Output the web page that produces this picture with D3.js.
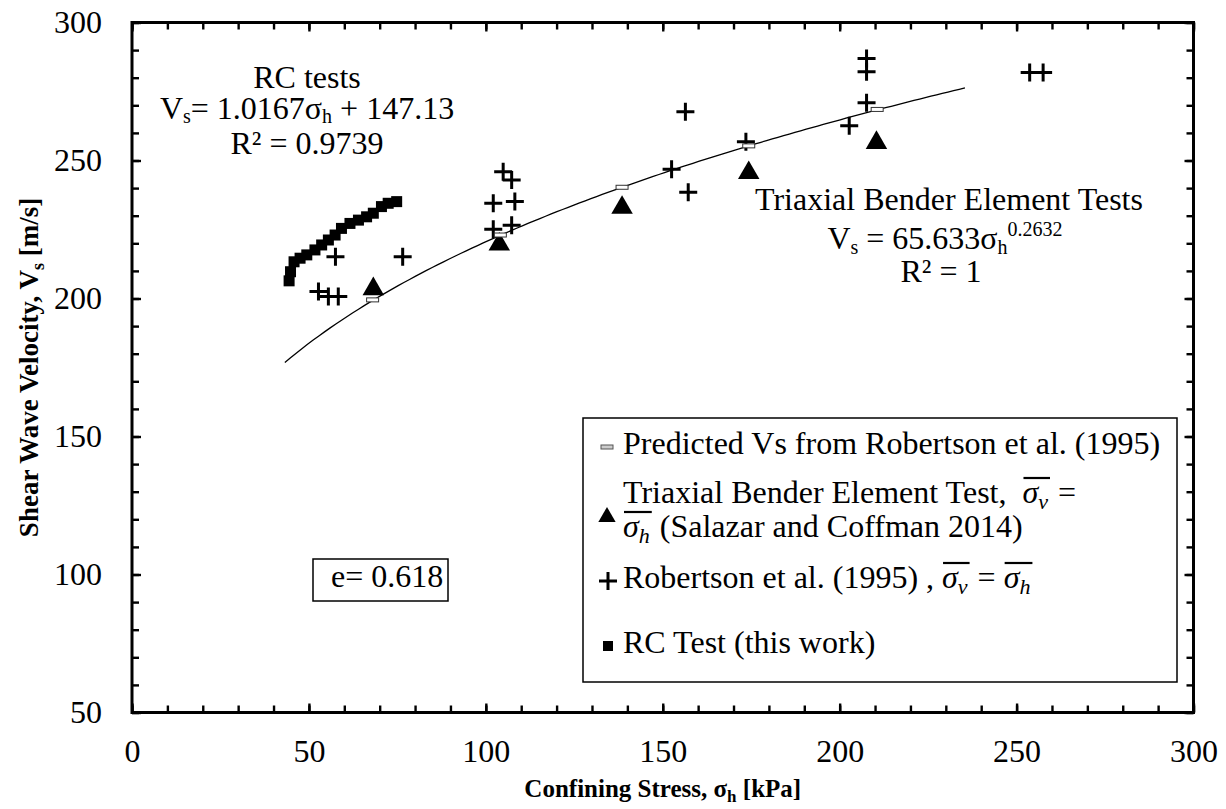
<!DOCTYPE html>
<html>
<head>
<meta charset="utf-8">
<script src="https://cdn.jsdelivr.net/npm/d3@7"></script>
<style>
  html, body { margin: 0; padding: 0; background: #fff; }
  svg { display: block; }
  text { font-family: "Liberation Serif", "Times New Roman", serif; fill: #000; }
</style>
</head>
<body>
<svg id="chart" width="1226" height="809"></svg>
<script>
// Resonant column (RC) results: confining stress [kPa] vs shear wave velocity [m/s]
const rcStress = [44.4, 44.8, 45.8, 47.5, 49.4, 51.7, 53.6, 55.5, 57.4, 59.2, 61.6, 64.0, 66.3, 68.2, 70.5, 72.4, 74.8];
const rcVs     = [206.4, 209.7, 213.3, 214.6, 215.8, 217.6, 219.4, 221.2, 223.0, 225.4, 227.2, 228.4, 229.6, 230.9, 233.3, 234.5, 235.1];

// Triaxial bender element tests (Salazar and Coffman 2014)
const tbeStress = [68.2, 103.8, 138.5, 174.3, 210.4];
const tbeVs     = [203.8, 220.0, 233.3, 245.9, 256.8];

// Predicted Vs from Robertson et al. (1995)
const predStress = [68.0, 104.1, 138.5, 174.3, 210.6];
const predVs     = [199.5, 223.0, 240.3, 255.3, 268.5];

// Robertson et al. (1995) measurements
const robStress = [52.7, 55.5, 58.3, 57.5, 76.5, 104.9, 107.3, 102.1, 108.2, 102.1, 107.3,
                   152.5, 157.2, 156.4, 173.5, 207.6, 207.6, 207.6, 202.7, 253.7, 257.5];
const robVs     = [202.5, 200.7, 200.7, 215.1, 215.1, 245.9, 242.9, 234.5, 235.1, 225.1, 226.5,
                   246.8, 238.5, 267.7, 256.8, 287.0, 282.2, 270.9, 262.6, 281.9, 281.9];

// Power-law fit of the triaxial data: Vs = a * sigma^b, drawn over its fitted range
const fitCoef = 65.633, fitExp = 0.2632;
const fitRange = [43.2, 235.4];

// Axis ticks
const xMajor = [0, 50, 100, 150, 200, 250, 300];
const yMajor = [50, 100, 150, 200, 250, 300];

const FONT = "Liberation Serif";
const svg = d3.select("#chart");
const x = d3.scaleLinear().domain([0, 300]).range([132, 1193.5]);
const y = d3.scaleLinear().domain([50, 300]).range([712.5, 22.5]);

// ---- axes: inward ticks on all four sides ----
const minorX = d3.range(0, 301, 10), minorY = d3.range(50, 301, 10);
function styleAxis(g) {
  g.attr("font-family", FONT).attr("font-size", 32);
  g.select(".domain").remove();
  g.selectAll("line").attr("stroke", "#000").attr("stroke-width", 2.4);
  g.selectAll("text").attr("fill", "#000");
}
function axisPair(make, pos, minorVals, majorVals, pad, labelled) {
  const horiz = make === d3.axisBottom || make === d3.axisTop;
  const tr = horiz ? `translate(0,${pos})` : `translate(${pos},0)`;
  const sc = horiz ? x : y;
  svg.append("g").attr("transform", tr)
    .call(make(sc).tickValues(minorVals).tickSizeInner(-7).tickSizeOuter(0).tickFormat(""))
    .call(styleAxis);
  svg.append("g").attr("transform", tr)
    .call(make(sc).tickValues(majorVals).tickSizeInner(-9).tickSizeOuter(0).tickPadding(pad)
      .tickFormat(labelled ? d3.format("d") : ""))
    .call(styleAxis);
}
axisPair(d3.axisBottom, y(50), minorX, xMajor, 26.5, true);
axisPair(d3.axisTop, y(300), minorX, xMajor, 0, false);
axisPair(d3.axisLeft, x(0), minorY, yMajor, 30, true);
axisPair(d3.axisRight, x(300), minorY, yMajor, 0, false);

// plot frame
svg.append("rect")
  .attr("x", x(0)).attr("y", y(300))
  .attr("width", x(300) - x(0)).attr("height", y(50) - y(300))
  .attr("fill", "none").attr("stroke", "#000").attr("stroke-width", 3);

// ---- axis titles ----
const xt = svg.append("text").attr("x", (x(0) + x(300)) / 2).attr("y", 797)
  .attr("text-anchor", "middle").style("font-size", "25px").style("font-weight", "bold");
xt.append("tspan").text("Confining Stress, σ");
xt.append("tspan").attr("dy", 5).style("font-size", "17px").text("h");
xt.append("tspan").attr("dy", -5).text(" [kPa]");

const yt = svg.append("text").attr("transform", `translate(38,${(y(50) + y(300)) / 2}) rotate(-90)`)
  .attr("text-anchor", "middle").style("font-size", "27px").style("font-weight", "bold");
yt.append("tspan").text("Shear Wave Velocity, V");
yt.append("tspan").attr("dy", 6).style("font-size", "18px").text("s");
yt.append("tspan").attr("dy", -6).text(" [m/s]");

// ---- fit curve ----
const fitPts = d3.range(fitRange[0], fitRange[1] + 0.01, (fitRange[1] - fitRange[0]) / 120)
  .map(s => [s, fitCoef * Math.pow(s, fitExp)]);
svg.append("path")
  .attr("d", d3.line().x(d => x(d[0])).y(d => y(d[1]))(fitPts))
  .attr("fill", "none").attr("stroke", "#000").attr("stroke-width", 1.3);

// ---- markers ----
const tri = d3.symbol().type(d3.symbolTriangle);
const plus = (cx, cy, h) => `M${cx - h},${cy}H${cx + h}M${cx},${cy - h}V${cy + h}`;

// RC test squares
svg.append("g").selectAll("rect").data(d3.zip(rcStress, rcVs)).join("rect")
  .attr("x", d => x(d[0]) - 5.5).attr("y", d => y(d[1]) - 5.5)
  .attr("width", 11).attr("height", 11).attr("fill", "#000");

// Robertson crosses
svg.append("g").selectAll("path").data(d3.zip(robStress, robVs)).join("path")
  .attr("d", d => plus(x(d[0]), y(d[1]), 9))
  .attr("stroke", "#000").attr("stroke-width", 3).attr("fill", "none");

// Bender element triangles
svg.append("g").selectAll("path").data(d3.zip(tbeStress, tbeVs)).join("path")
  .attr("transform", d => `translate(${x(d[0])},${y(d[1]) + 1})`)
  .attr("d", tri.size(200)()).attr("fill", "#000");

// Predicted Vs dashes
svg.append("g").selectAll("rect").data(d3.zip(predStress, predVs)).join("rect")
  .attr("x", d => x(d[0]) - 6).attr("y", d => y(d[1]) - 2)
  .attr("width", 12).attr("height", 4)
  .attr("fill", "#fff").attr("stroke", "#333").attr("stroke-width", 1);

// ---- annotations ----
function addLine(xc, yb, parts, anchor) {
  const t = svg.append("text").attr("x", xc).attr("y", yb)
    .attr("text-anchor", anchor || "middle").style("font-size", "32px");
  parts.forEach(p => {
    const s = t.append("tspan").text(p.t);
    if (p.dy) s.attr("dy", p.dy);
    if (p.fs) s.style("font-size", p.fs);
  });
  return t;
}
addLine(307, 88, [{t: "RC tests"}]);
addLine(307, 119, [{t: "V"}, {t: "s", dy: 4, fs: "20px"}, {t: "= 1.0167σ", dy: -4}, {t: "h", dy: 4, fs: "20px"}, {t: " + 147.13", dy: -4}]);
addLine(307, 154, [{t: "R² = 0.9739"}]);

addLine(949, 210, [{t: "Triaxial Bender Element Tests"}]);
addLine(945, 249, [{t: "V"}, {t: "s", dy: 5, fs: "20px"}, {t: " = 65.633σ", dy: -5}, {t: "h", dy: 5, fs: "20px"}, {t: "0.2632", dy: -18, fs: "20px"}]);
addLine(941, 282, [{t: "R² = 1"}]);

// void ratio box
svg.append("rect").attr("x", 313).attr("y", 559).attr("width", 135).attr("height", 42)
  .attr("fill", "#fff").attr("stroke", "#000").attr("stroke-width", 1.5);
addLine(331, 587, [{t: "e= 0.618"}], "start");

// ---- legend ----
const lg = svg.append("g");
lg.append("rect").attr("x", 583).attr("y", 418).attr("width", 594).attr("height", 264)
  .attr("fill", "#fff").attr("stroke", "#000").attr("stroke-width", 1.5);

// text made of plain and overlined math segments, laid out left to right
function richLine(x0, yb, segs) {
  let cx = x0;
  segs.forEach(sg => {
    if (sg.math) {
      const g = lg.append("text").attr("x", cx).attr("y", yb).style("font-size", "32px").style("font-style", "italic");
      g.append("tspan").text(sg.math);
      g.append("tspan").attr("dy", 6).style("font-size", "22px").text(sg.sub);
      const w = g.node().getComputedTextLength();
      lg.append("line").attr("x1", cx + 1).attr("x2", cx + w + 2)
        .attr("y1", yb - 25).attr("y2", yb - 25).attr("stroke", "#000").attr("stroke-width", 2.2);
      cx += w + 2;
    } else {
      const g = lg.append("text").attr("x", cx).attr("y", yb).style("font-size", "32px")
        .attr("xml:space", "preserve").style("white-space", "pre").text(sg.t);
      cx += g.node().getComputedTextLength();
    }
  });
}

const lx = 623;
// entry 1: predicted
lg.append("rect").attr("x", 601).attr("y", 445).attr("width", 12).attr("height", 4)
  .attr("fill", "#ccc").attr("stroke", "#555").attr("stroke-width", 1);
richLine(lx, 454, [{t: "Predicted Vs from Robertson et al. (1995)"}]);
// entry 2: triaxial bender element
lg.append("path").attr("transform", "translate(607,517)").attr("d", tri.size(130)()).attr("fill", "#000");
richLine(lx, 503, [{t: "Triaxial Bender Element Test,  "}, {math: "σ", sub: "v"}, {t: " ="}]);
richLine(lx, 537, [{math: "σ", sub: "h"}, {t: " (Salazar and Coffman 2014)"}]);
// entry 3: Robertson
lg.append("path").attr("d", plus(608, 581, 9)).attr("stroke", "#000").attr("stroke-width", 3);
richLine(lx, 588, [{t: "Robertson et al. (1995) "}, {t: ", "}, {math: "σ", sub: "v"}, {t: " = "}, {math: "σ", sub: "h"}]);
// entry 4: RC test
lg.append("rect").attr("x", 603).attr("y", 641).attr("width", 10).attr("height", 10).attr("fill", "#000");
richLine(lx, 653, [{t: "RC Test (this work)"}]);
</script>
</body>
</html>
